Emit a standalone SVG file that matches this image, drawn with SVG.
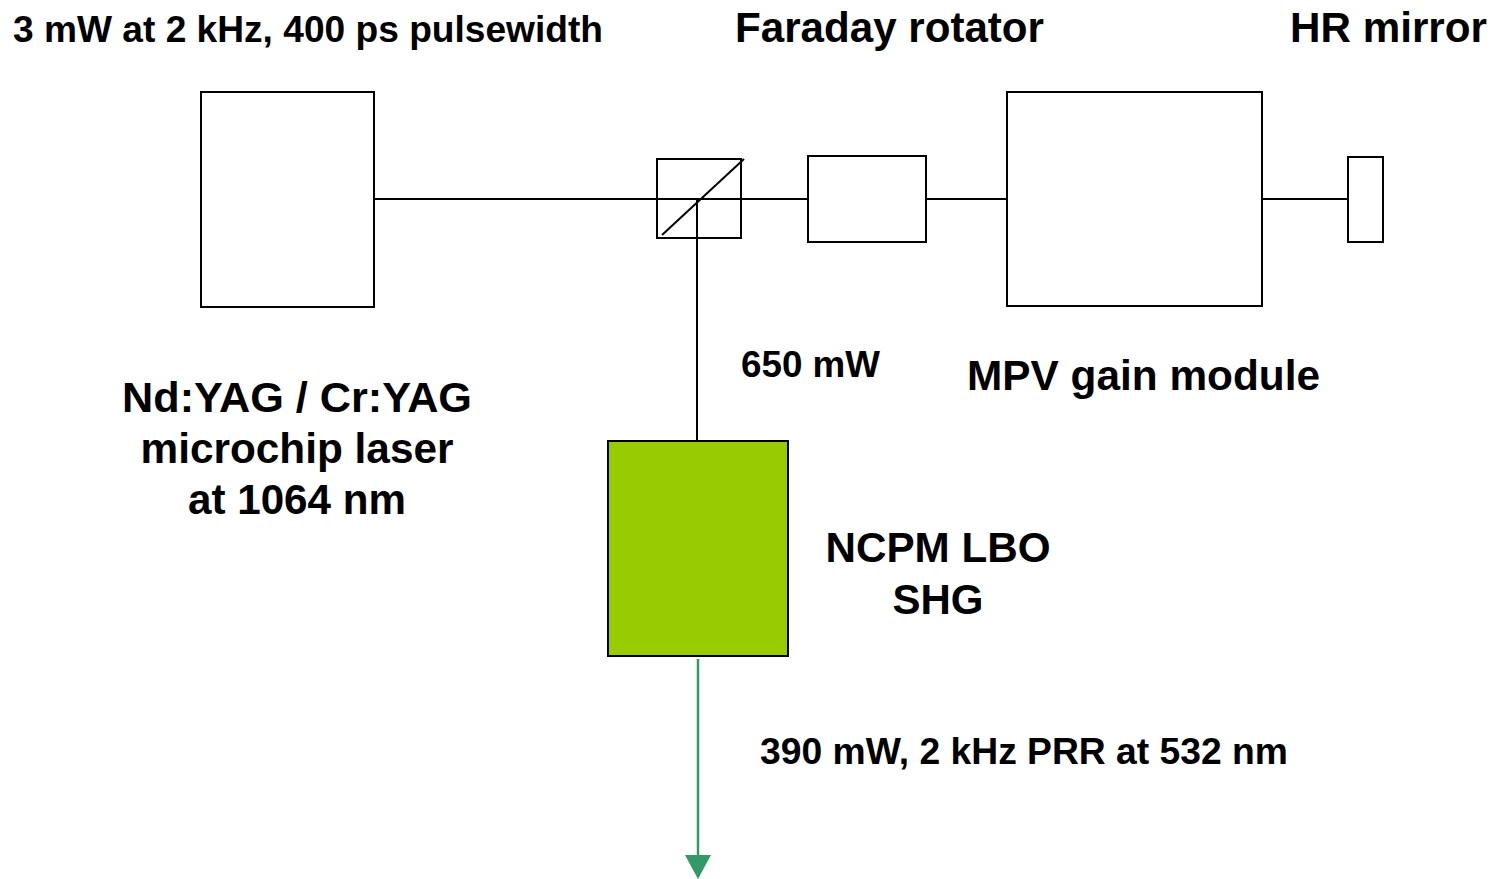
<svg xmlns="http://www.w3.org/2000/svg" width="1494" height="879" viewBox="0 0 1494 879">
<style>
.box{fill:#fff;stroke:#000;stroke-width:2}
.ln{stroke:#000;stroke-width:2;fill:none}
.t{font-family:"Liberation Sans",Arial,sans-serif;font-weight:bold;fill:#000}
.big{font-size:42px}
.sm{font-size:36px}
</style>
<rect width="1494" height="879" fill="#fff"/>
<g id="connectors">
<line class="ln" x1="374" y1="199" x2="808" y2="199"/>
<line class="ln" x1="926" y1="199" x2="1007" y2="199"/>
<line class="ln" x1="1262" y1="199" x2="1348" y2="199"/>
<line class="ln" x1="697" y1="199" x2="697" y2="441"/>
<line x1="698" y1="659" x2="698" y2="857" stroke="#339966" stroke-width="2.5"/>
<polygon points="685,855 711,855 698,879" fill="#339966"/>
</g>
<g id="microchip-laser">
<rect class="box" x="201" y="92" width="173" height="215"/>
<text class="t big" text-anchor="middle" x="297" y="412" textLength="350" lengthAdjust="spacingAndGlyphs">Nd:YAG / Cr:YAG</text>
<text class="t big" text-anchor="middle" x="297" y="463" textLength="313" lengthAdjust="spacingAndGlyphs">microchip laser</text>
<text class="t big" text-anchor="middle" x="297" y="514" textLength="218" lengthAdjust="spacingAndGlyphs">at 1064 nm</text>
</g>
<g id="beam-splitter">
<rect x="657" y="159" width="84" height="79" fill="none" stroke="#000" stroke-width="2"/>
<line class="ln" x1="662" y1="235" x2="744" y2="159"/>
</g>
<g id="faraday-rotator">
<rect class="box" x="808" y="156" width="118" height="86"/>
<text class="t big" x="735" y="42" textLength="309" lengthAdjust="spacingAndGlyphs">Faraday rotator</text>
</g>
<g id="mpv-gain-module">
<rect class="box" x="1007" y="92" width="255" height="214"/>
<text class="t big" x="967" y="390" textLength="353" lengthAdjust="spacingAndGlyphs">MPV gain module</text>
</g>
<g id="hr-mirror">
<rect class="box" x="1348" y="157" width="35" height="85"/>
<text class="t big" x="1290" y="42" textLength="197" lengthAdjust="spacingAndGlyphs">HR mirror</text>
</g>
<g id="shg">
<rect x="608" y="441" width="180" height="215" fill="#99cc00" stroke="#000" stroke-width="2"/>
<text class="t big" text-anchor="middle" x="938" y="562" textLength="225" lengthAdjust="spacingAndGlyphs">NCPM LBO</text>
<text class="t big" text-anchor="middle" x="938" y="614">SHG</text>
</g>
<g id="labels">
<text class="t sm" x="13" y="42" textLength="590" lengthAdjust="spacingAndGlyphs">3 mW at 2 kHz, 400 ps pulsewidth</text>
<text class="t sm" x="741" y="377" textLength="139" lengthAdjust="spacingAndGlyphs">650 mW</text>
<text class="t sm" x="760" y="764" textLength="528" lengthAdjust="spacingAndGlyphs">390 mW, 2 kHz PRR at 532 nm</text>
</g>
</svg>
